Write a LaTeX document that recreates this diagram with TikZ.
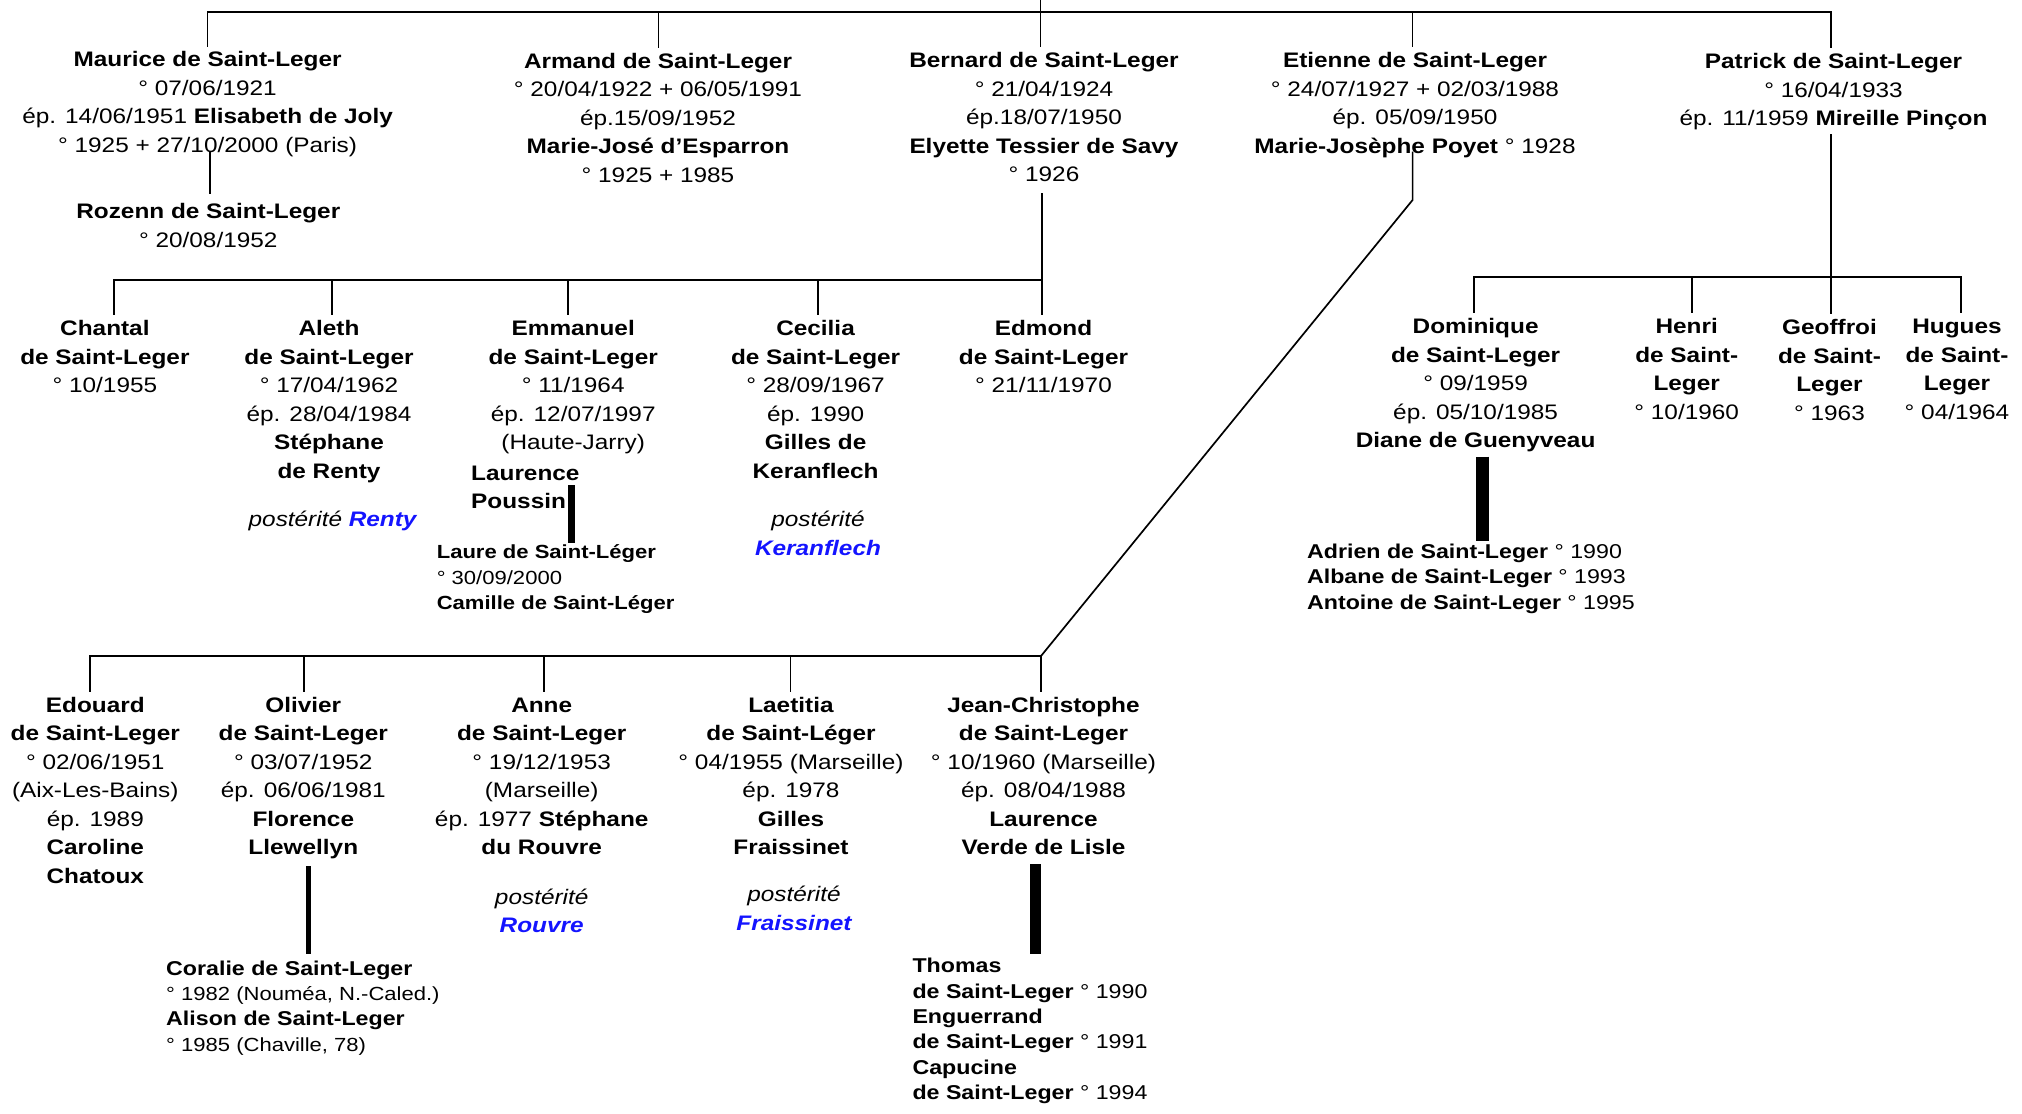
\documentclass[tikz,border=0pt]{standalone}
\usepackage{fontspec}
\setmainfont{Liberation Sans}[FakeStretch=1.16]
\definecolor{lienbleu}{RGB}{20,20,255}
\newcommand{\hs}{\rule{0pt}{21pt}}
\newcommand{\hg}{\rule{0pt}{20pt}}
\newcommand{\bl}[1]{\textbf{\textit{\color{lienbleu}#1}}}
\begin{document}
\begin{tikzpicture}[x=1pt,y=-1pt,
  pers/.style={inner sep=0pt,anchor=north,align=center,font=\fontsize{21}{28.5}\selectfont},
  persl/.style={inner sep=0pt,anchor=north west,align=left,font=\fontsize{21}{28.5}\selectfont},
  desc/.style={inner sep=0pt,anchor=north west,align=left,font=\fontsize{20}{25.3}\selectfont},
  descs/.style={desc,font=\fontsize{19}{25.3}\selectfont},
  lien/.style={line width=1.7pt,line cap=rect},
  barre/.style={line width=#1}]
\useasboundingbox (0,0) rectangle (2022,1114);

% ---------- generation 1 ----------
\node[pers] (maurice) at (207.6,45.7) {\hs\textbf{Maurice de Saint-Leger}\\° 07/06/1921\\ép. 14/06/1951 \textbf{Elisabeth de Joly}\\° 1925 + 27/10/2000 (Paris)};
\node[pers] (armand) at (658,47) {\hs\textbf{Armand de Saint-Leger}\\° 20/04/1922 + 06/05/1991\\ép.15/09/1952\\\textbf{Marie-José d’Esparron}\\° 1925 + 1985};
\node[pers] (bernard) at (1044,46.5) {\hs\textbf{Bernard de Saint-Leger}\\° 21/04/1924\\ép.18/07/1950\\\textbf{Elyette Tessier de Savy}\\° 1926};
\node[pers] (etienne) at (1415,46.5) {\hs\textbf{Etienne de Saint-Leger}\\° 24/07/1927 + 02/03/1988\\ép. 05/09/1950\\\textbf{Marie-Josèphe Poyet} ° 1928};
\node[pers] (patrick) at (1833.5,47.5) {\hs\textbf{Patrick de Saint-Leger}\\° 16/04/1933\\ép. 11/1959 \textbf{Mireille Pinçon}};
\node[pers] (rozenn) at (208.3,197.3) {\hs\textbf{Rozenn de Saint-Leger}\\° 20/08/1952};

% ---------- children of Bernard ----------
\node[pers] (chantal) at (104.9,314.5) {\hs\textbf{Chantal}\\\textbf{de Saint-Leger}\\° 10/1955};
\node[pers] (aleth) at (329,314.5) {\hs\textbf{Aleth}\\\textbf{de Saint-Leger}\\° 17/04/1962\\ép. 28/04/1984\\\textbf{Stéphane}\\\textbf{de Renty}};
\node[pers] (emmanuel) at (573.2,314.5) {\hs\textbf{Emmanuel}\\\textbf{de Saint-Leger}\\° 11/1964\\ép. 12/07/1997\\(Haute-Jarry)};
\node[pers] (cecilia) at (815.6,314.5) {\hs\textbf{Cecilia}\\\textbf{de Saint-Leger}\\° 28/09/1967\\ép. 1990\\\textbf{Gilles de}\\\textbf{Keranflech}};
\node[pers] (edmond) at (1043.5,314.5) {\hs\textbf{Edmond}\\\textbf{de Saint-Leger}\\° 21/11/1970};
\node[pers] (prenty) at (332.6,505.7) {\hs\textit{postérité} \bl{Renty}};
\node[pers] (pkeran) at (818,505.7) {\hs\textit{postérité}\\\bl{Keranflech}};
\node[persl] (laurence) at (471,459) {\hs\textbf{Laurence}\\\textbf{Poussin}};
\node[descs] (laure) at (436.6,538.7) {\hg\textbf{Laure de Saint-Léger}\\° 30/09/2000\\\textbf{Camille de Saint-Léger}};

% ---------- children of Patrick ----------
\node[pers] (dominique) at (1475.6,312.3) {\hs\textbf{Dominique}\\\textbf{de Saint-Leger}\\° 09/1959\\ép. 05/10/1985\\\textbf{Diane de Guenyveau}};
\node[pers] (henri) at (1686.7,312.3) {\hs\textbf{Henri}\\\textbf{de Saint-}\\\textbf{Leger}\\° 10/1960};
\node[pers] (geoffroi) at (1829.5,313.5) {\hs\textbf{Geoffroi}\\\textbf{de Saint-}\\\textbf{Leger}\\° 1963};
\node[pers] (hugues) at (1957,312.3) {\hs\textbf{Hugues}\\\textbf{de Saint-}\\\textbf{Leger}\\° 04/1964};
\node[desc] (adrien) at (1306.9,538.3) {\hg\textbf{Adrien de Saint-Leger} ° 1990\\\textbf{Albane de Saint-Leger} ° 1993\\\textbf{Antoine de Saint-Leger} ° 1995};

% ---------- children of Etienne ----------
\node[pers] (edouard) at (95.3,691) {\hs\textbf{Edouard}\\\textbf{de Saint-Leger}\\° 02/06/1951\\(Aix-Les-Bains)\\ép. 1989\\\textbf{Caroline}\\\textbf{Chatoux}};
\node[pers] (olivier) at (303.3,691) {\hs\textbf{Olivier}\\\textbf{de Saint-Leger}\\° 03/07/1952\\ép. 06/06/1981\\\textbf{Florence}\\\textbf{Llewellyn}};
\node[pers] (anne) at (541.7,691) {\hs\textbf{Anne}\\\textbf{de Saint-Leger}\\° 19/12/1953\\(Marseille)\\ép. 1977 \textbf{Stéphane}\\\textbf{du Rouvre}};
\node[pers] (laetitia) at (791,691) {\hs\textbf{Laetitia}\\\textbf{de Saint-Léger}\\° 04/1955 (Marseille)\\ép. 1978\\\textbf{Gilles}\\\textbf{Fraissinet}};
\node[pers] (jc) at (1043.5,691) {\hs\textbf{Jean-Christophe}\\\textbf{de Saint-Leger}\\° 10/1960 (Marseille)\\ép. 08/04/1988\\\textbf{Laurence}\\\textbf{Verde de Lisle}};
\node[pers] (prouvre) at (541.7,883) {\hs\textit{postérité}\\\bl{Rouvre}};
\node[pers] (pfraiss) at (794,880.7) {\hs\textit{postérité}\\\bl{Fraissinet}};
\node[desc] (coralie) at (166,955) {\hg\textbf{Coralie de Saint-Leger}\\{\fontsize{19}{25.3}\selectfont ° 1982 (Nouméa, N.-Caled.)}\\\textbf{Alison de Saint-Leger}\\{\fontsize{19}{25.3}\selectfont ° 1985 (Chaville, 78)}};
\node[desc] (thomas) at (912.3,952.7) {\hg\textbf{Thomas}\\\textbf{de Saint-Leger} ° 1990\\\textbf{Enguerrand}\\\textbf{de Saint-Leger} ° 1991\\\textbf{Capucine}\\\textbf{de Saint-Leger} ° 1994};

% ---------- connectors: top ----------
\coordinate (t0) at (1040.6,0);
\coordinate (tm) at (207.6,11.7);
\coordinate (ta) at (658.5,11.7);
\coordinate (tb) at (1040.6,11.7);
\coordinate (te) at (1412.6,11.7);
\coordinate (tp) at (1831,11.7);
\draw[lien] (t0) -- (tb);
\draw[lien] (tm) -- (tp);
\foreach \c/\n in {tm/maurice,ta/armand,tb/bernard,te/etienne,tp/patrick}
  \draw[lien] (\c) -- (\c |- \n.north);

% Maurice -> Rozenn
\coordinate (mr1) at (209.8,152.7);
\coordinate (mr2) at (209.8,192.7);
\draw[lien] (mr1) -- (mr2);

% Bernard -> children
\coordinate (bd) at (1042,194.3);
\coordinate (bb) at (1042,280);
\coordinate (b1) at (113.8,280);
\coordinate (b2) at (331.7,280);
\coordinate (b3) at (567.9,280);
\coordinate (b4) at (818.3,280);
\draw[lien] (bd) -- (bb);
\draw[lien] (b1) -- (bb);
\foreach \c/\n in {b1/chantal,b2/aleth,b3/emmanuel,b4/cecilia,bb/edmond}
  \draw[lien] (\c) -- (\c |- \n.north);

% Etienne -> children
\coordinate (ed) at (1412.6,151.7);
\coordinate (ek) at (1412.6,200);
\coordinate (eb) at (1041,656);
\coordinate (e1) at (90.2,656);
\coordinate (e2) at (304,656);
\coordinate (e3) at (543.75,656);
\coordinate (e4) at (790.6,656);
\draw[lien,line cap=butt] (ed) -- (ek) -- (eb);
\draw[lien] (e1) -- (eb);
\foreach \c/\n in {e1/edouard,e2/olivier,e3/anne,e4/laetitia,eb/jc}
  \draw[lien] (\c) -- (\c |- \n.north);

% Patrick -> children
\coordinate (pd) at (1831,135);
\coordinate (pb) at (1831,276.7);
\coordinate (p1) at (1474.2,276.7);
\coordinate (p2) at (1692.3,276.7);
\coordinate (p4) at (1960.7,276.7);
\draw[lien] (pd) -- (pb);
\draw[lien] (p1) -- (p4);
\foreach \c/\n in {p1/dominique,p2/henri,pb/geoffroi,p4/hugues}
  \draw[lien] (\c) -- (\c |- \n.north);

% ---------- thick bars to grandchildren ----------
\coordinate (em1) at (571.4,485);   \coordinate (em2) at (571.4,542.7);
\coordinate (do1) at (1482.5,456.7); \coordinate (do2) at (1482.5,540.7);
\coordinate (ol1) at (308.4,866);   \coordinate (ol2) at (308.4,954);
\coordinate (jc1) at (1035.5,864);  \coordinate (jc2) at (1035.5,954);
\draw[barre=7pt] (em1) -- (em2);
\draw[barre=12.5pt] (do1) -- (do2);
\draw[barre=5.5pt] (ol1) -- (ol2);
\draw[barre=11pt] (jc1) -- (jc2);
\end{tikzpicture}
\end{document}
